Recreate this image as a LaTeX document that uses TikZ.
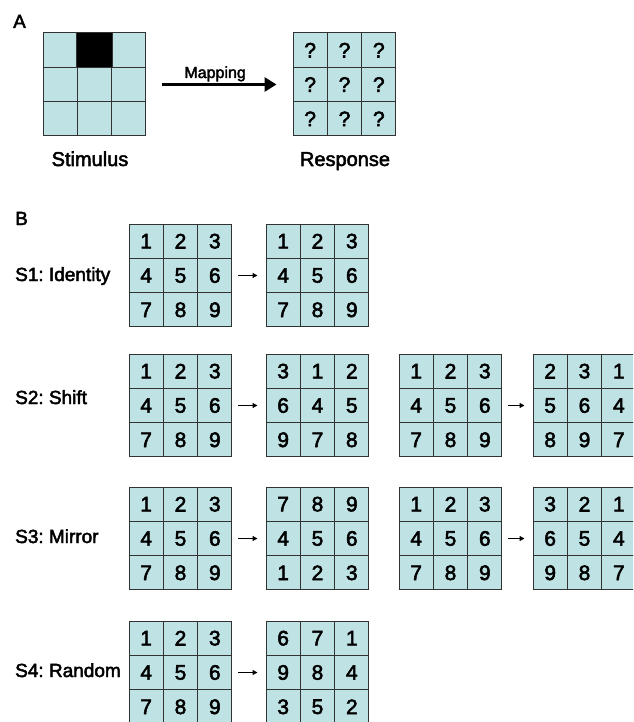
\documentclass[tikz,border=0pt]{standalone}
\usepackage{fontspec}
\setmainfont[FakeBold=2.5]{Liberation Sans}
\frenchspacing
\usetikzlibrary{arrows.meta}
\definecolor{cellc}{RGB}{191,226,228}
\definecolor{linec}{RGB}{50,50,50}
\newcommand\mygrid[4]{%
  \foreach \v [count=\i from 0] in {#4} {%
    \pgfmathtruncatemacro\rr{int(\i/3)}%
    \pgfmathtruncatemacro\cc{mod(\i,3)}%
    \node[cell] (#1-\i) at ({#2+(\cc+0.5)*34.33},{#3+(\rr+0.5)*34.33}) {\v};
  }%
}
\begin{document}
\begin{tikzpicture}[x=1pt,y=-1pt,
  cell/.style={draw=linec, fill=cellc, line width=1pt, minimum size=34.33pt, inner sep=0pt, font=\fontsize{21}{21}\selectfont},
  lab/.style={inner sep=0pt, font=\fontsize{19}{19}\selectfont},
  biglab/.style={inner sep=0pt, font=\fontsize{20}{20}\selectfont},
  bigarr/.style={line width=3pt, -{Triangle[length=12pt,width=14pt]}},
  smallarr/.style={line width=1.2pt, -{Triangle[length=5pt,width=5pt]}, shorten <=6pt, shorten >=8pt}]
\useasboundingbox (0,0) rectangle (633,722);
\clip (0,0) rectangle (633,722);
% Panel A
\node[lab, anchor=base west] (la) at (13,28) {A};
\mygrid{st}{43}{33}{{},{},{},{},{},{},{},{},{}}
\fill[black] (st-1.south west) rectangle (st-1.north east);
\draw[linec, line width=1pt] (st-1.south west) rectangle (st-1.north east);
\mygrid{rp}{293}{33}{?,?,?,?,?,?,?,?,?}
\draw[bigarr, shorten <=16pt, shorten >=16pt] (st-5.east) -- (rp-3.west)
  node[pos=0.47, anchor=base, yshift=6.5pt, inner sep=0pt, font=\fontsize{16}{16}\selectfont] (map) {Mapping};
\node[biglab, anchor=base] (stim) at (90,166) {Stimulus};
\node[biglab, anchor=base] (resp) at (345,166) {Response};
% Panel B
\node[lab, anchor=base west] (lb) at (15,225) {B};
% S1
\node[lab, anchor=base west] (s1) at (15,281) {S1: Identity};
\mygrid{aa}{129}{224}{1,2,3,4,5,6,7,8,9}
\mygrid{ab}{266}{224}{1,2,3,4,5,6,7,8,9}
\draw[smallarr] (aa-5.east) -- (ab-3.west);
% S2
\node[lab, anchor=base west] (s2) at (15,404) {S2: Shift};
\mygrid{ba}{129}{354}{1,2,3,4,5,6,7,8,9}
\mygrid{bb}{266}{354}{3,1,2,6,4,5,9,7,8}
\draw[smallarr] (ba-5.east) -- (bb-3.west);
\mygrid{bc}{399}{354}{1,2,3,4,5,6,7,8,9}
\mygrid{bd}{533}{354}{2,3,1,5,6,4,8,9,7}
\draw[smallarr] (bc-5.east) -- (bd-3.west);
% S3
\node[lab, anchor=base west] (s3) at (15,543) {S3: Mirror};
\mygrid{ca}{129}{487}{1,2,3,4,5,6,7,8,9}
\mygrid{cb}{266}{487}{7,8,9,4,5,6,1,2,3}
\draw[smallarr] (ca-5.east) -- (cb-3.west);
\mygrid{cc}{399}{487}{1,2,3,4,5,6,7,8,9}
\mygrid{cd}{533}{487}{3,2,1,6,5,4,9,8,7}
\draw[smallarr] (cc-5.east) -- (cd-3.west);
% S4
\node[lab, anchor=base west] (s4) at (15,677) {S4: Random};
\mygrid{da}{129}{621}{1,2,3,4,5,6,7,8,9}
\mygrid{db}{266}{621}{6,7,1,9,8,4,3,5,2}
\draw[smallarr] (da-5.east) -- (db-3.west);
\end{tikzpicture}
\end{document}
